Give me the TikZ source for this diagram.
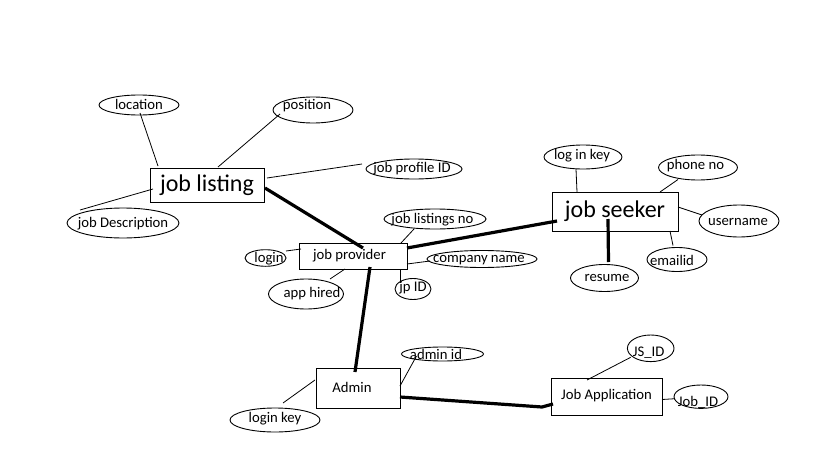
\documentclass[tikz,border=0pt]{standalone}
\usepackage{fontspec}
\setmainfont{Carlito}
\usetikzlibrary{shapes.geometric,calc}
\tikzset{
  ent/.style={draw, line width=0.9pt, inner sep=0pt, outer sep=0pt, fill=white},
  bigtxt/.style={font=\fontsize{24}{28}\selectfont},
  smalltxt/.style={font=\fontsize{14.7}{17}\selectfont},
  ell/.style={draw, ellipse, line width=0.9pt, inner sep=0pt, outer sep=0pt},
  txt/.style={inner sep=0pt, font=\fontsize{14.7}{17}\selectfont},
  thin/.style={line width=0.8pt},
  thick/.style={line width=3.2pt},
}
\begin{document}
\begin{tikzpicture}[x=1pt,y=-1pt]
\fill[white] (0,0) rectangle (819,460);
\useasboundingbox (0,0) rectangle (819,460);

% entities
\node[ent, bigtxt, minimum width=114, minimum height=34] (jl) at (207,185) {job listing};
\node[ent, smalltxt, minimum width=108, minimum height=26] (jp) at (353,256) {\hspace*{-7pt}job provider};
\node[ent, bigtxt, minimum width=126, minimum height=39] (js) at (615,211.5) {job seeker};
\node[ent, smalltxt, minimum width=84, minimum height=40] (ad) at (358,388) {\raisebox{1pt}{\hspace*{-12pt}Admin}};
\node[ent, smalltxt, minimum width=111, minimum height=37] (ja) at (606.5,396.5) {\raisebox{5pt}{Job Application}};

% attribute ellipses
\node[ell, minimum width=80, minimum height=20] (loc) at (139,105) {};
\node[ell, minimum width=80, minimum height=26] (pos) at (313,110) {};
\node[ell, minimum width=96, minimum height=20] (jpid) at (414,169) {};
\node[ell, minimum width=112, minimum height=30] (jd) at (123,223) {};
\node[ell, minimum width=102, minimum height=20] (jln) at (435,219) {};
\node[ell, minimum width=41, minimum height=16.6] (login) at (265.5,258) {};
\node[ell, minimum width=75, minimum height=30] (apph) at (306,294) {};
\node[ell, minimum width=110, minimum height=17] (comp) at (482,259) {};
\node[ell, minimum width=36, minimum height=21] (jpi) at (413,289) {};
\node[ell, minimum width=78, minimum height=24] (lik) at (583,157) {};
\node[ell, minimum width=79, minimum height=25] (phone) at (698,167.5) {};
\node[ell, minimum width=80, minimum height=32] (user) at (739,221) {};
\node[ell, minimum width=60, minimum height=24] (email) at (677,259.5) {};
\node[ell, minimum width=68, minimum height=27] (resume) at (604.5,278) {};
\node[ell, minimum width=82, minimum height=14] (adid) at (442.5,354) {};
\node[ell, minimum width=90, minimum height=24] (lk) at (275,420) {};
\node[ell, minimum width=46.6, minimum height=26.6] (jsid) at (650.7,348.3) {};
\node[ell, minimum width=54, minimum height=23.4] (jobid) at (701,396.7) {};

% attribute texts
\node[txt] (locT) at (139,104) {location};
\node[txt] (posT) at (307,106) {position};
\node[txt] (jpidT) at (412,169) {job profile ID};
\node[txt] (jdT) at (123,223.5) {job Description};
\node[txt] (jlnT) at (432.5,220) {job listings no};
\node[txt] (loginT) at (269,259) {login};
\node[txt] (apphT) at (312,293.5) {app hired};
\node[txt] (compT) at (479,260) {company name};
\node[txt] (jpiT) at (413,287.5) {jp ID};
\node[txt] (likT) at (582,156) {log in key};
\node[txt] (phoneT) at (695.5,166) {phone no};
\node[txt] (userT) at (738,222) {username};
\node[txt] (emailT) at (672,260) {emailid};
\node[txt] (resumeT) at (607,277.5) {resume};
\node[txt] (adidT) at (436,354) {admin id};
\node[txt] (lkT) at (275,419) {login key};
\node[txt] (jsidT) at (648.7,353) {JS\_ID};
\node[txt] (jobidT) at (698,402) {Job\_ID};

% thin connectors
\draw[thin] ($(loc)+(1,8)$) -- ($(jl.north west)+(8,-2)$);
\draw[thin] ($(pos)+(-33,4)$) -- ($(jl.north west)+(68,-1)$);
\draw[thin] ($(jpid)+(-52,-5)$) -- ($(jl.north east)+(3,10)$);
\draw[thin] ($(jl.north west)+(3,21)$) -- ($(jd)+(-43,-13)$);
\draw[thin] ($(jln)+(-21,10)$) -- ($(jp.north east)+(-6,0)$);
\draw[thin] ($(login)+(20.5,-7)$) -- ($(jp.north west)+(2,6)$);
\draw[thin] ($(apph)+(24,-15)$) -- ($(jp.south west)+(46,0)$);
\draw[thin] ($(jp.south east)+(0,-5)$) -- ($(comp)+(-52,2)$);
\draw[thin] ($(jp.south east)+(-7,0)$) -- ($(jpi)+(-13,-6)$);
\draw[thin] ($(lik)+(-7,12)$) -- ($(js.north west)+(25,0)$);
\draw[thin] ($(phone)+(-20,12)$) -- ($(js.north east)+(-18,0)$);
\draw[thin] ($(js.north east)+(0,15)$) -- ($(user)+(-37,-6)$);
\draw[thin] ($(js.south east)+(-8,0)$) -- ($(email)+(-4,-14)$);
\draw[thin] ($(adid)+(-26,2)$) -- ($(ad.north east)+(0,18)$);
\draw[thin] ($(ad.north west)+(-1,12)$) -- ($(lk)+(8,-17)$);
\draw[thin] ($(jsid)+(-20,9)$) -- ($(ja.north west)+(36,2)$);
\draw[thin] ($(ja.east)+(0,3)$) -- ($(jobid)+(-26,2)$);

% thick connectors
\draw[thick] ($(jl.east)+(1,3)$) -- ($(jp.north west)+(64,5)$);
\draw[thick] ($(jp.north east)+(0,5)$) -- ($(js.south west)+(5,-10)$);
\draw[thick] ($(js.south west)+(56,-12)$) -- ($(resume)+(4,-16)$);
\draw[thick] ($(jp.south west)+(71,-2)$) -- ($(ad.north west)+(39,4)$);
\draw[thick] ($(ad.north east)+(0,29)$) -- ($(ja.south west)+(-9,-8)$) -- ($(ja.south west)+(2,-11)$);
\end{tikzpicture}
\end{document}
